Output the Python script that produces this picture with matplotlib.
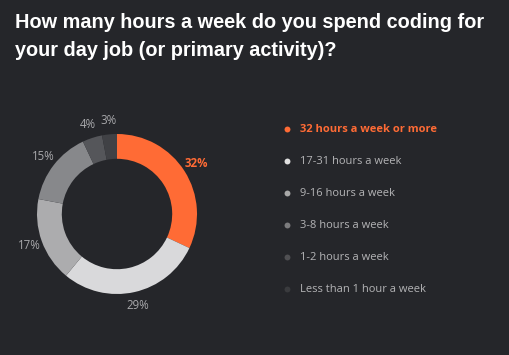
import numpy as np
import matplotlib.pyplot as plt

categories = ['32 hours a week or more', '17-31 hours a week', '9-16 hours a week',
              '3-8 hours a week', '1-2 hours a week', 'Less than 1 hour a week']
shares = [32, 29, 17, 15, 4, 3]
colors = ['#ff6b35', '#d9d9db', '#acacae', '#87888b', '#55565a', '#404145']
legend_dot = ['#ff6b35', '#e0e0e0', '#a8a8a8', '#7c7c7e', '#505053', '#3a3b3e']
title = 'How many hours a week do you spend coding for\nyour day job (or primary activity)?'

bg = '#25262a'
W, H = 509, 355
fig = plt.figure(figsize=(W / 100, H / 100), dpi=100, facecolor=bg)

# donut, centre at (117, 214) px, outer radius 80 px
cx, cy, half = 117, 214, 100
ax = fig.add_axes([(cx - half) / W, (H - cy - half) / H, 2 * half / W, 2 * half / H])
ax.set_facecolor(bg)
wedges, _, autotexts = ax.pie(shares, colors=colors, startangle=90, counterclock=False,
                              wedgeprops=dict(width=0.31, linewidth=0),
                              autopct='%d%%', pctdistance=1.17,
                              textprops=dict(fontsize=8.3, color='#a8a8ab', family='Open Sans'))
autotexts[0].set_color('#ff6b35')
autotexts[0].set_fontweight('bold')
ax.set_xlim(-1.25, 1.25)
ax.set_ylim(-1.25, 1.25)
ax.set_aspect('equal')
ax.axis('off')

# overlay in pixel coords for title and legend
ov = fig.add_axes([0, 0, 1, 1])
ov.set_xlim(0, W)
ov.set_ylim(H, 0)
ov.axis('off')
ov.patch.set_alpha(0)

ov.text(15, 37, title, fontsize=14.3, fontweight='bold', color='white',
        family='Liberation Sans', va='center', ha='left', linespacing=1.6)

for i, (lab, dc) in enumerate(zip(categories, legend_dot)):
    y = 129 + i * 32
    ov.scatter([287], [y], s=18, color=dc, linewidths=0)
    if i == 0:
        ov.text(300, y, lab, fontsize=8, color='#ff6b35', fontweight='bold',
                family='Open Sans', va='center')
    else:
        ov.text(300, y, lab, fontsize=8, color='#b4b4b6', family='Open Sans', va='center')

fig.savefig('out.png', dpi=100, facecolor=bg)
